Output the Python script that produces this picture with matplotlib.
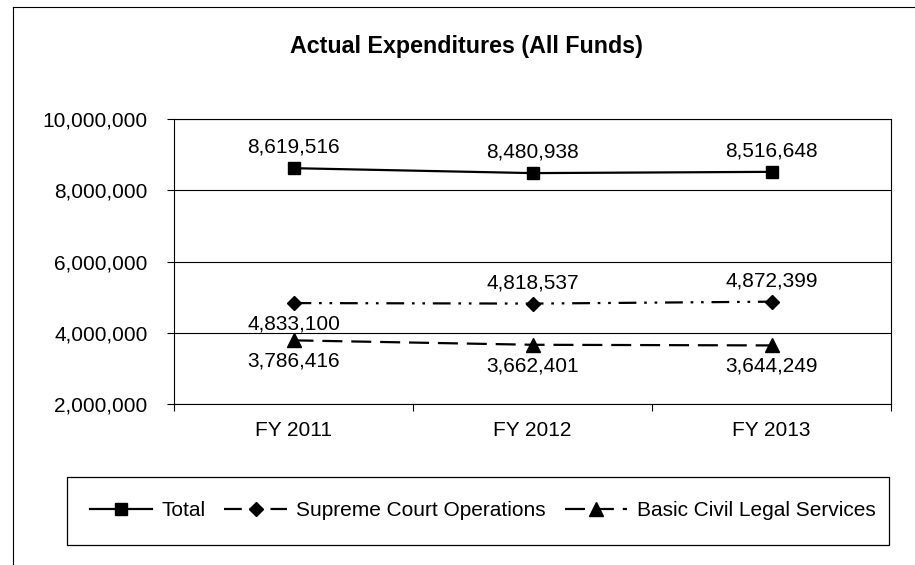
import matplotlib
matplotlib.use("Agg")
import matplotlib.pyplot as plt
from matplotlib.lines import Line2D
from matplotlib.patches import Rectangle

plt.rcParams['font.family'] = ['Liberation Sans', 'DejaVu Sans']

categories = ["FY 2011", "FY 2012", "FY 2013"]
total = [8619516, 8480938, 8516648]
supreme = [4833100, 4818537, 4872399]
civil = [3786416, 3662401, 3644249]
series_names = ["Total", "Supreme Court Operations", "Basic Civil Legal Services"]
yticks = [2000000, 4000000, 6000000, 8000000, 10000000]
title = "Actual Expenditures (All Funds)"

W, H = 915, 565
fig = plt.figure(figsize=(W / 100, H / 100), dpi=100)
ax = fig.add_axes([174 / W, 1 - 404 / H, (891 - 174) / W, (404 - 119) / H])

x = list(range(len(categories)))
l1, = ax.plot(x, total, color='black', lw=1.6, marker='s', markersize=9,
              label=series_names[0], zorder=3)
l2, = ax.plot(x, supreme, color='black', lw=1.6, marker='D', markersize=7,
              linestyle=(0, (8, 3.5, 1.2, 3.5, 1.2, 3.5)), label=series_names[1], zorder=3)
l3, = ax.plot(x, civil, color='black', lw=1.6, marker='^', markersize=10,
              linestyle=(0, (9, 4)), label=series_names[2], zorder=3)

fs = 15
def lab(xi, v, up):
    ax.annotate(f"{v:,}", (xi, v), xytext=(0, 15 if up else -15), textcoords='offset points',
                ha='center', va='center', fontsize=fs)

for i, v in enumerate(total):
    lab(i, v, True)
sup_up = [False, True, True]
for i, v in enumerate(supreme):
    lab(i, v, sup_up[i])
for i, v in enumerate(civil):
    lab(i, v, False)

ax.set_xlim(-0.5, len(categories) - 0.5)
ax.set_ylim(yticks[0], yticks[-1])
ax.set_yticks(yticks)
ax.set_yticklabels([f"{t:,}" for t in yticks], fontsize=fs)
ax.yaxis.grid(True, color='black', lw=0.8)
ax.set_axisbelow(True)

ax.set_xticks([i - 0.5 for i in range(len(categories) + 1)])
ax.set_xticklabels([])
ax.set_xticks(x, minor=True)
ax.set_xticklabels(categories, minor=True, fontsize=fs)
ax.tick_params(axis='x', which='major', direction='out', length=5, width=0.8)
ax.tick_params(axis='x', which='minor', length=0, pad=12)
ax.tick_params(axis='y', direction='out', length=5, width=0.8, pad=14)
for s in ax.spines.values():
    s.set_color('black')
    s.set_linewidth(0.8)

fig.text(466 / W, 1 - 53 / H, title, ha='center', va='baseline', fontsize=16.75,
         fontweight='bold')

# outer chart frame (left and top edges visible)
fig.add_artist(Line2D([13 / W, 1.0], [1 - 7 / H, 1 - 7 / H], color='black', lw=0.8,
                      transform=fig.transFigure))
fig.add_artist(Line2D([13 / W, 13 / W], [0.0, 1 - 7 / H], color='black', lw=0.8,
                      transform=fig.transFigure))

# legend box
fig.add_artist(Rectangle((67 / W, 1 - 545 / H), (889 - 67) / W, (545 - 477) / H,
                         transform=fig.transFigure, fill=False, edgecolor='black', lw=0.9))
leg = fig.legend(handles=[l1, l2, l3], loc='center', bbox_to_anchor=(482.5 / W, 1 - 511 / H),
                 ncol=3, frameon=False, fontsize=15, handlelength=3.0, numpoints=1,
                 columnspacing=0.9, handletextpad=0.45)

fig.savefig("out.png", dpi=100)
